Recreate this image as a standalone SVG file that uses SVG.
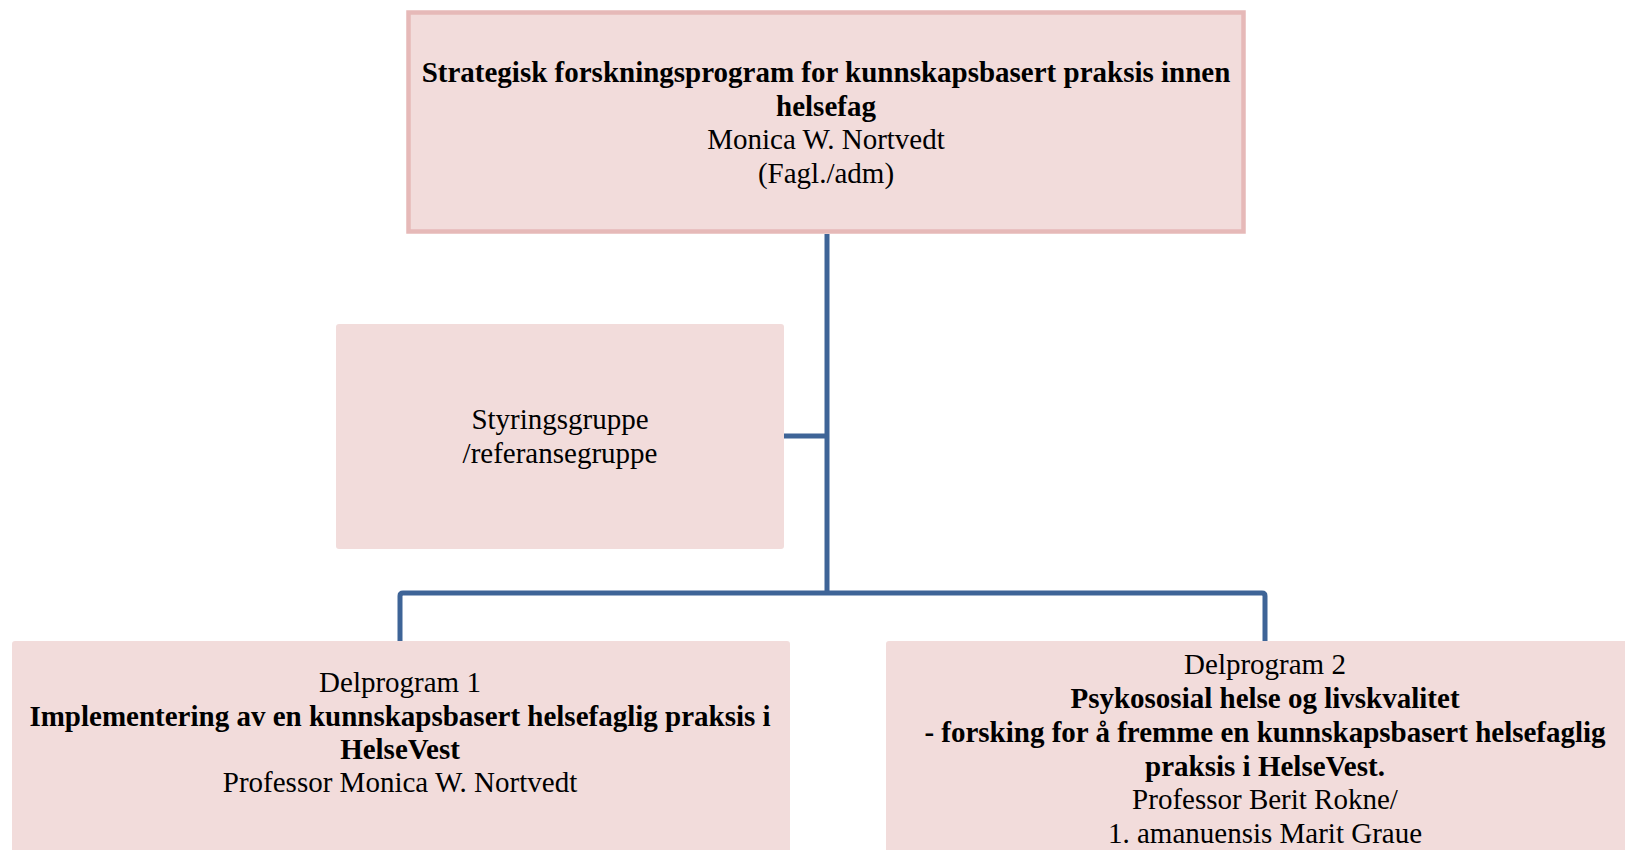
<svg xmlns="http://www.w3.org/2000/svg" width="1625" height="850" viewBox="0 0 1625 850">
  <style>
    .box { fill: #F2DCDB; }
    .topbox { fill: #F2DCDB; stroke: #E6B9B8; stroke-width: 4.5; }
    .t { font-family: "Liberation Serif", "Times New Roman", serif; font-size: 29px; fill: #000; text-anchor: middle; }
    .b { font-weight: bold; }
    .conn { fill: none; stroke: #3E6497; stroke-width: 5; stroke-linejoin: round; }
  </style>
  <rect width="1625" height="850" fill="#ffffff"/>
  <g id="connectors">
    <path class="conn" d="M827,234 V593"/>
    <path class="conn" d="M783,436 H827"/>
    <path class="conn" d="M400,641 V596 Q400,593 403,593 H1262 Q1265,593 1265,596 V641"/>
  </g>
  <g id="node-top">
    <rect class="topbox" x="408.5" y="12.5" width="835" height="219"/>
    <text class="t b" x="826" y="82">Strategisk forskningsprogram for kunnskapsbasert praksis innen</text>
    <text class="t b" x="826" y="116">helsefag</text>
    <text class="t" x="826" y="149">Monica W. Nortvedt</text>
    <text class="t" x="826" y="183">(Fagl./adm)</text>
  </g>
  <g id="node-styring">
    <rect class="box" x="336" y="324" width="448" height="225" rx="3"/>
    <text class="t" x="560" y="429">Styringsgruppe</text>
    <text class="t" x="560" y="463">/referansegruppe</text>
  </g>
  <g id="node-delprogram1">
    <rect class="box" x="12" y="641" width="778" height="230" rx="3"/>
    <text class="t" x="400" y="692">Delprogram 1</text>
    <text class="t b" x="400" y="725.5">Implementering av en kunnskapsbasert helsefaglig praksis i</text>
    <text class="t b" x="400" y="759">HelseVest</text>
    <text class="t" x="400" y="792">Professor Monica W. Nortvedt</text>
  </g>
  <g id="node-delprogram2">
    <rect class="box" x="886" y="641" width="778" height="230" rx="3"/>
    <text class="t" x="1265" y="674">Delprogram 2</text>
    <text class="t b" x="1265" y="708">Psykososial helse og livskvalitet</text>
    <text class="t b" x="1265" y="742">- forsking for å fremme en kunnskapsbasert helsefaglig</text>
    <text class="t b" x="1265" y="775.5">praksis i HelseVest.</text>
    <text class="t" x="1265" y="809">Professor Berit Rokne/</text>
    <text class="t" x="1265" y="842.5">1. amanuensis Marit Graue</text>
  </g>
</svg>
